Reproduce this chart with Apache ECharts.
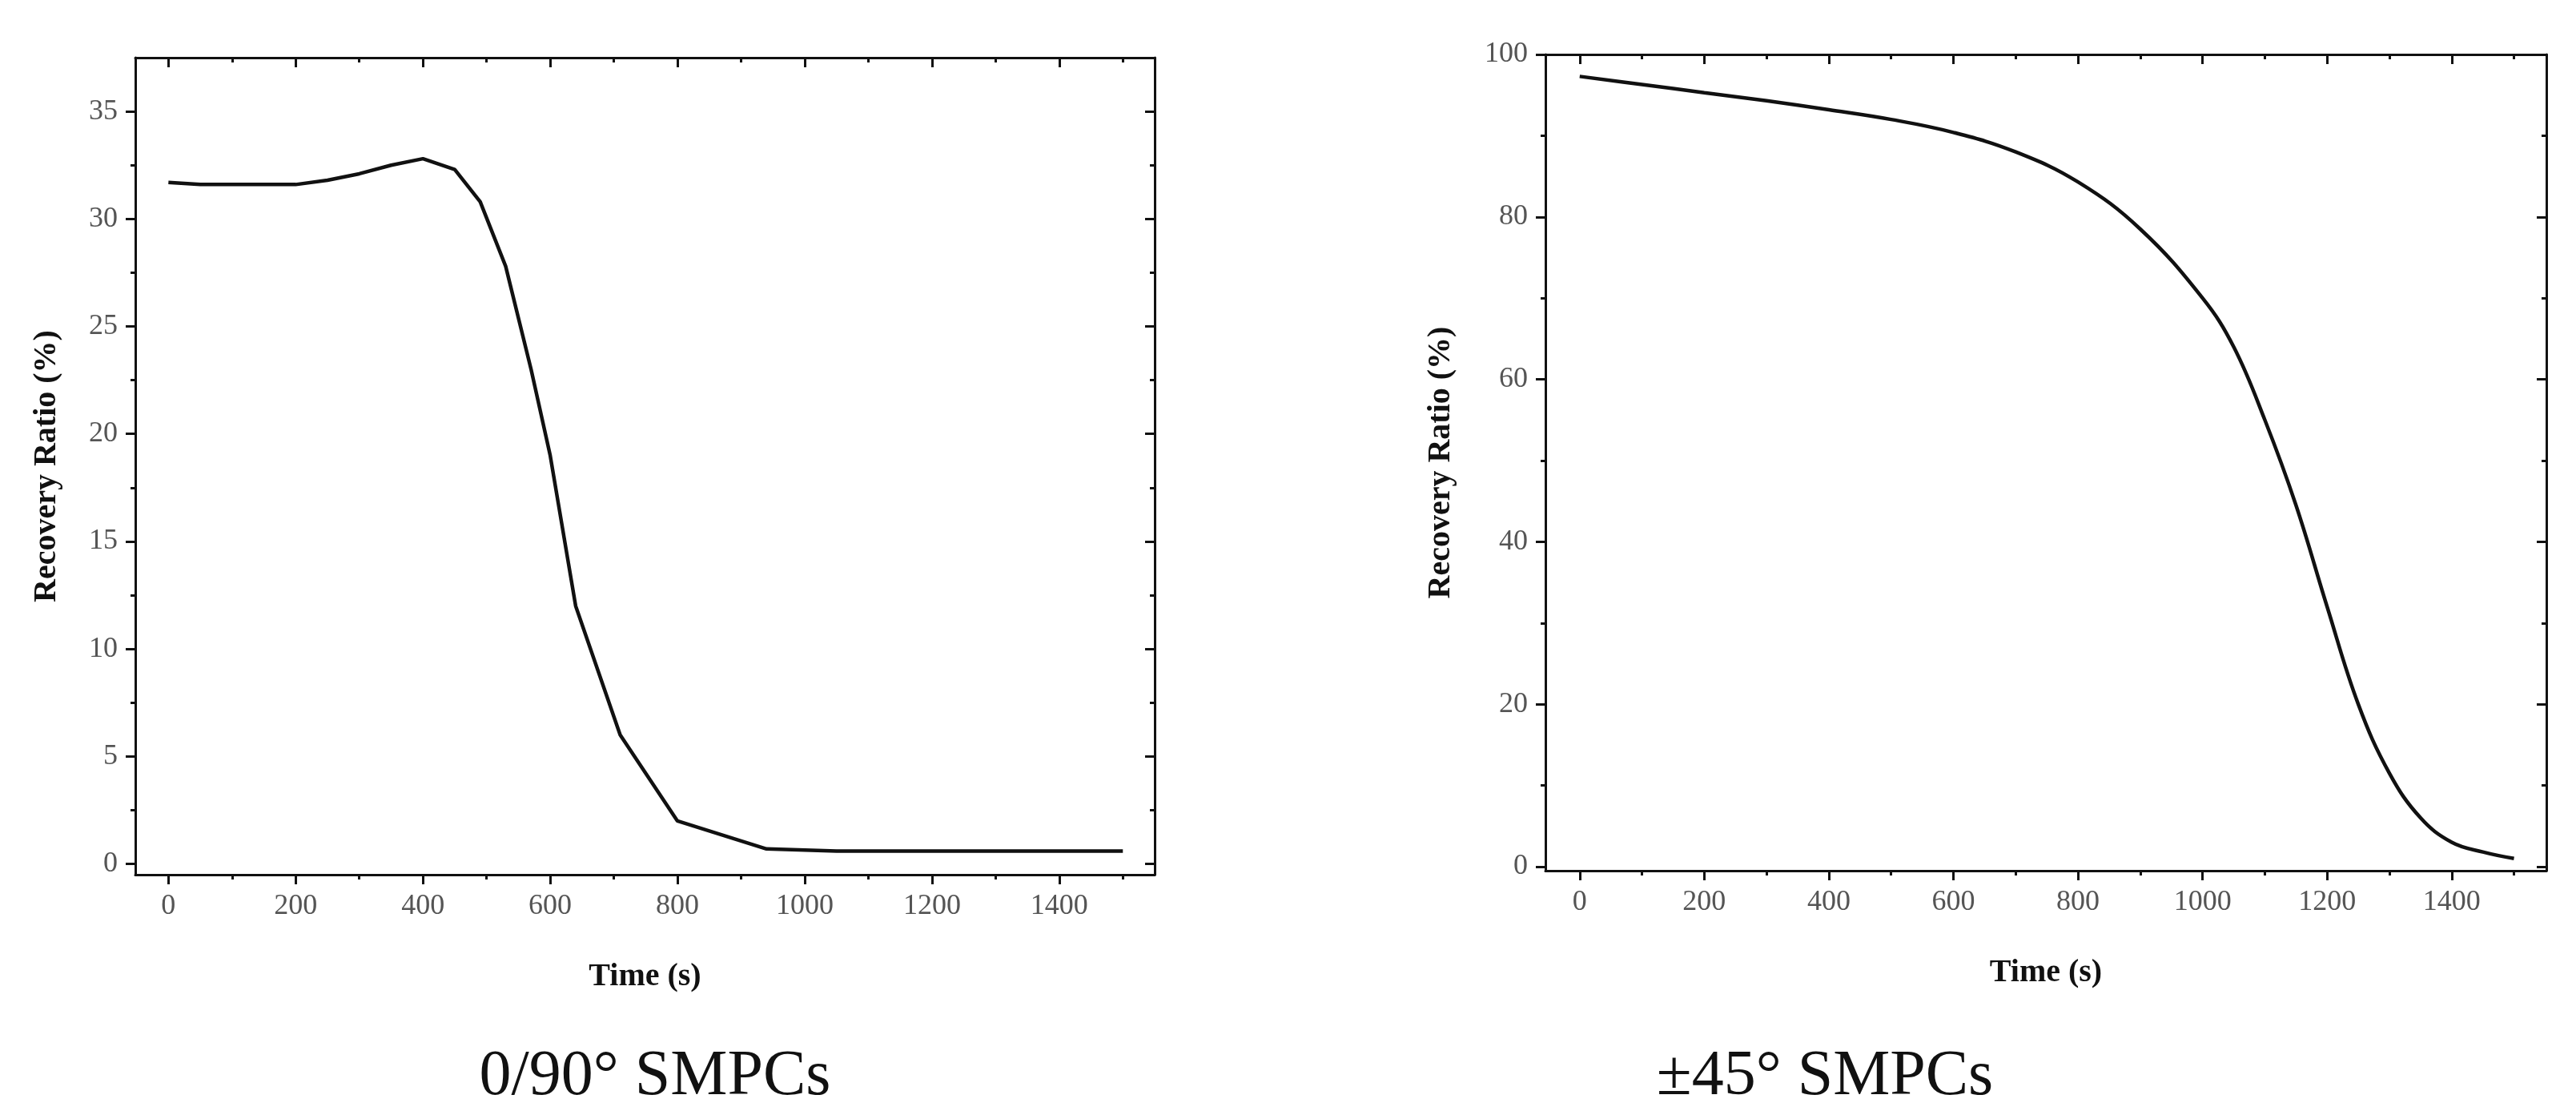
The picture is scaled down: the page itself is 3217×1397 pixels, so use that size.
<!DOCTYPE html>
<html>
<head>
<meta charset="utf-8">
<script src="https://cdn.jsdelivr.net/npm/echarts@6/dist/echarts.min.js"></script>
<style>html,body{margin:0;padding:0;background:#fff}#main{width:3217px;height:1397px}</style>
</head>
<body>
<div id="main"></div>
<script>
// 0/90° SMPCs
var timeA = [0, 50, 100, 200, 250, 300, 350, 400, 450, 490, 530, 570, 600, 640, 710, 800, 940, 1050, 1500];
var ratioA = [31.7, 31.6, 31.6, 31.6, 31.8, 32.1, 32.5, 32.8, 32.3, 30.8, 27.8, 23, 19, 12, 6, 2, 0.7, 0.6, 0.6];
// ±45° SMPCs
var timeB = [0, 100, 200, 300, 400, 500, 600, 700, 800, 900, 1000, 1050, 1100, 1150, 1200, 1250, 1300, 1350, 1400, 1450, 1500];
var ratioB = [97.3, 96.3, 95.3, 94.3, 93.2, 92, 90.4, 88, 84.3, 78.5, 70, 64, 55, 44.5, 32, 20, 11.5, 6, 3, 1.8, 1];

var xMajor = [0, 200, 400, 600, 800, 1000, 1200, 1400];
var xMinor = [100, 300, 500, 700, 900, 1100, 1300, 1500];
var yMajorA = [0, 5, 10, 15, 20, 25, 30, 35];
var yMinorA = [2.5, 7.5, 12.5, 17.5, 22.5, 27.5, 32.5];
var yMajorB = [0, 20, 40, 60, 80, 100];
var yMinorB = [10, 30, 50, 70, 90];

var font = 'Liberation Serif';
var labelStyle = {color: '#555', fontSize: 36, fontFamily: font};
var nameStyle = {color: '#111', fontSize: 40, fontWeight: 'bold', fontFamily: font};

function axes(dim, gi, min, max, major, minor, name, gap) {
  var list = [];
  var pos = dim === 'x' ? ['bottom', 'top'] : ['left', 'right'];
  pos.forEach(function (p, k) {
    [[major, 12], [minor, 6]].forEach(function (t, j) {
      var a = {
        type: 'value', gridIndex: gi, position: p, min: min, max: max,
        splitLine: {show: false},
        axisLine: {show: j === 0, onZero: false, lineStyle: {color: '#111', width: 3}},
        axisTick: {show: true, inside: k === 1, length: t[1], customValues: t[0], lineStyle: {color: '#111', width: 3}},
        axisLabel: {show: k === 0 && j === 0, customValues: t[0], margin: 22, formatter: function (v) { return String(v); }}
      };
      Object.assign(a.axisLabel, labelStyle);
      if (k === 0 && j === 0) {
        a.name = name; a.nameLocation = 'middle'; a.nameGap = gap; a.nameTextStyle = nameStyle;
      }
      list.push(a);
    });
  });
  return list;
}

var xs = axes('x', 0, -52, 1550, xMajor, xMinor, 'Time (s)', 108)
  .concat(axes('x', 1, -55, 1552, xMajor, xMinor, 'Time (s)', 108));
var ys = axes('y', 0, -0.5, 37.5, yMajorA, yMinorA, 'Recovery Ratio (%)', 90)
  .concat(axes('y', 1, -0.5, 100, yMajorB, yMinorB, 'Recovery Ratio (%)', 110));

function pairs(t, v) { return t.map(function (x, i) { return [x, v[i]]; }); }

var chart = echarts.init(document.getElementById('main'));
chart.setOption({
  backgroundColor: '#fff',
  animation: false,
  title: [
    {text: '0/90° SMPCs', left: 813, top: 1300, textAlign: 'center', textStyle: {fontFamily: font, fontSize: 80, fontWeight: 'normal', color: '#111'}},
    {text: '±45° SMPCs', left: 2274, top: 1300, textAlign: 'center', textStyle: {fontFamily: font, fontSize: 80, fontWeight: 'normal', color: '#111'}}
  ],
  grid: [
    {left: 169, top: 72, width: 1273, height: 1020},
    {left: 1930, top: 68, width: 1250, height: 1019}
  ],
  xAxis: xs,
  yAxis: ys,
  series: [
    {type: 'line', xAxisIndex: 0, yAxisIndex: 0, data: pairs(timeA, ratioA), showSymbol: false, lineStyle: {color: '#111', width: 4.5}},
    {type: 'line', xAxisIndex: 4, yAxisIndex: 4, data: pairs(timeB, ratioB), smooth: 0.4, showSymbol: false, lineStyle: {color: '#111', width: 4.5}}
  ]
});
</script>
</body>
</html>
